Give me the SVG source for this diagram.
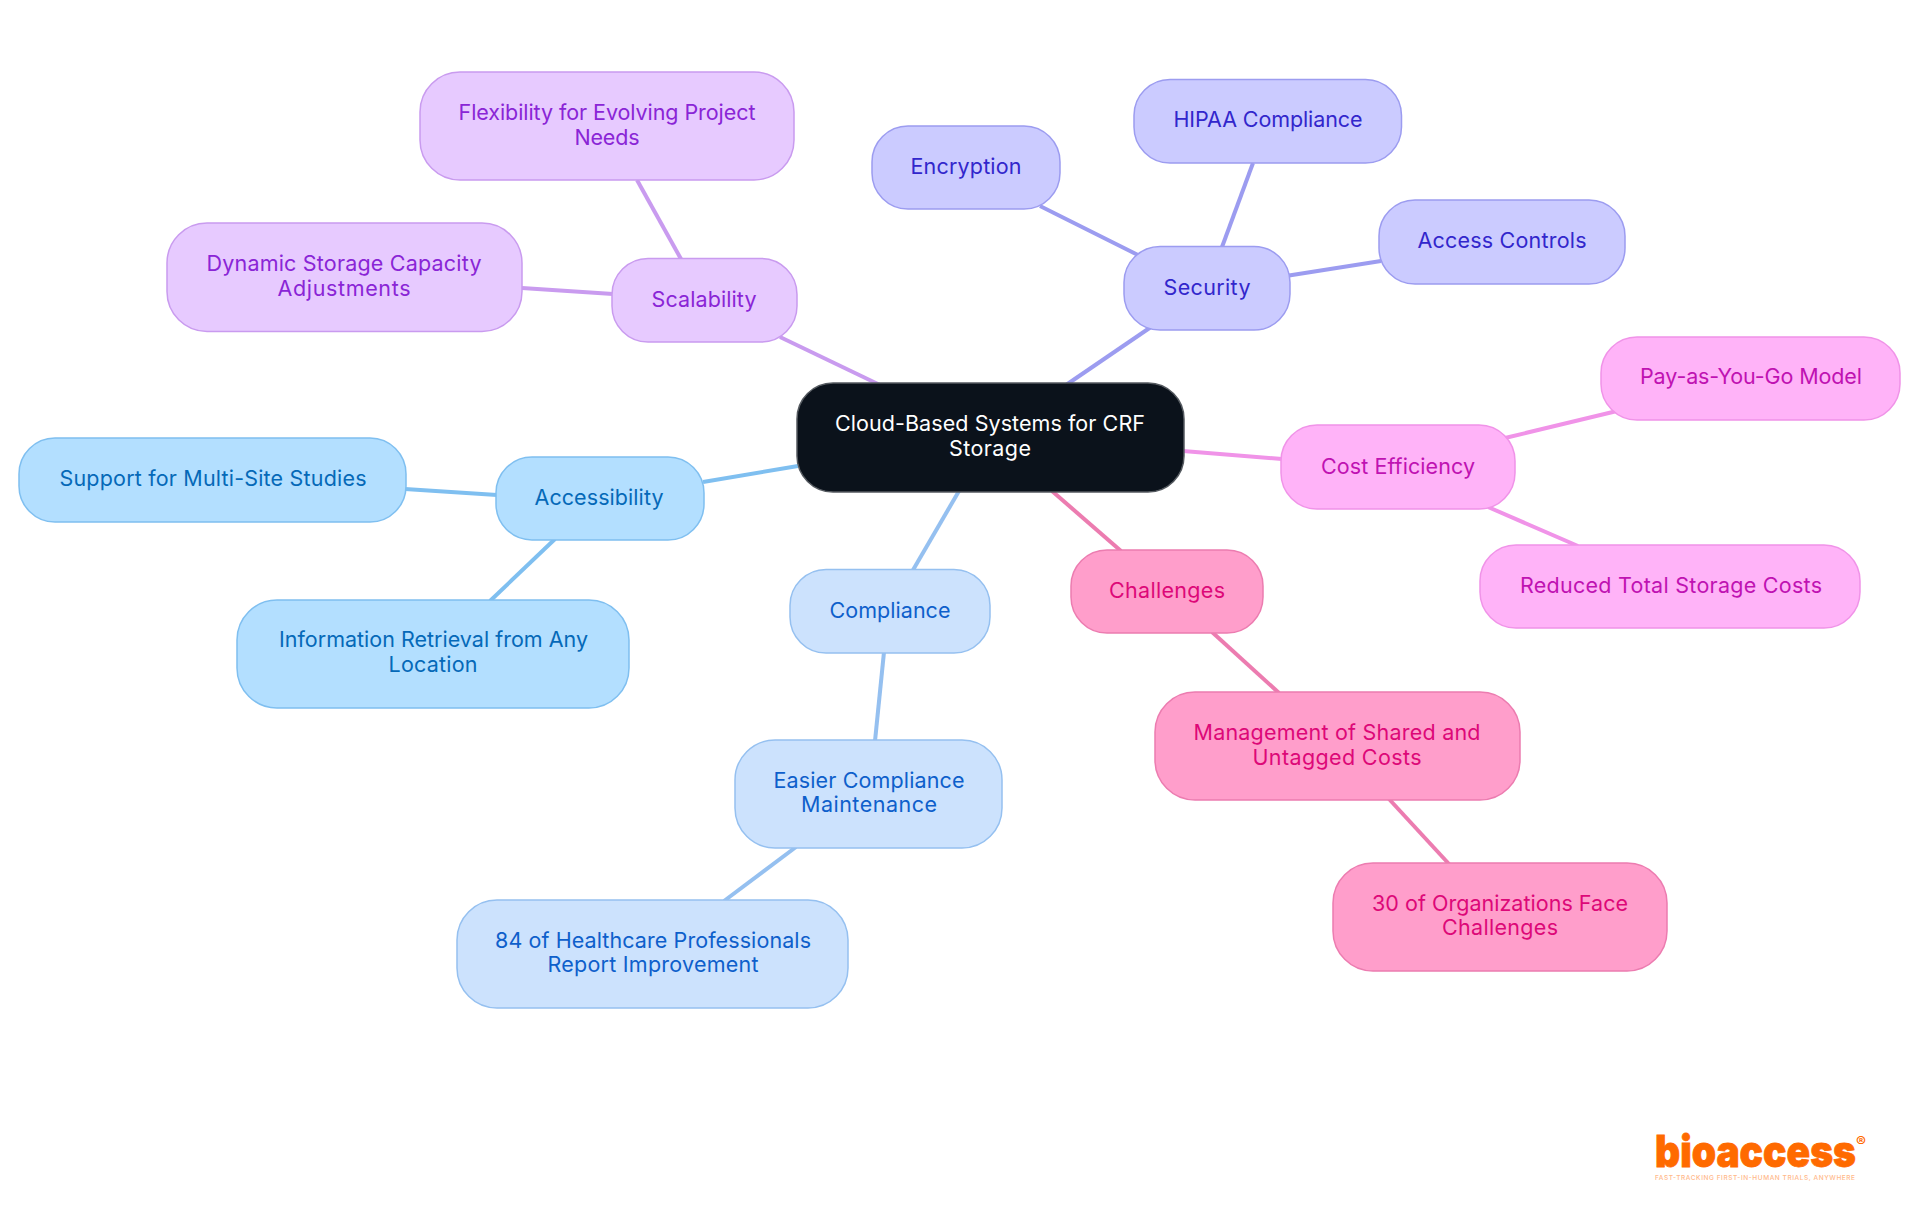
<svg xmlns="http://www.w3.org/2000/svg" width="1920" height="1215" viewBox="0 0 1920 1215">
<style>
text{font-family:"Inter","Noto Sans",sans-serif;font-size:21.5px;font-weight:380;text-anchor:middle}
rect{stroke-width:1.5}
.c line{stroke-width:4;fill:none}
.root rect{fill:#0b121b;stroke:#555a60}.root text{fill:#fff}
.pu rect{fill:#e7caff;stroke:#c99bef}.pu text{fill:#8a25d6}
.in rect{fill:#cbcbff;stroke:#9c9cf0}.in text{fill:#3226cc}
.ma rect{fill:#ffb3f8;stroke:#f093e8}.ma text{fill:#bf12b2}
.sk rect{fill:#b3dfff;stroke:#7fbff0}.sk text{fill:#0569b8}
.bl rect{fill:#cce2fd;stroke:#95c0f0}.bl text{fill:#0e5fcb}
.pk rect{fill:#ff9ecb;stroke:#ec7cb0}.pk text{fill:#dd0878}
</style>
<rect width="1920" height="1215" fill="#fff" stroke="none"/>
<g id="connectors" class="c">
<line x1="780" y1="337" x2="880" y2="385" stroke="#c99bef"/>
<line x1="637" y1="180" x2="681" y2="259" stroke="#c99bef"/>
<line x1="522" y1="288" x2="613" y2="294" stroke="#c99bef"/>
<line x1="1151" y1="327" x2="1066" y2="385" stroke="#9c9cf0"/>
<line x1="1040" y1="206" x2="1140" y2="256" stroke="#9c9cf0"/>
<line x1="1253" y1="163" x2="1222" y2="247" stroke="#9c9cf0"/>
<line x1="1289" y1="275.500" x2="1381" y2="261" stroke="#9c9cf0"/>
<line x1="1183" y1="451" x2="1282" y2="459" stroke="#f093e8"/>
<line x1="1505" y1="438" x2="1617" y2="411" stroke="#f093e8"/>
<line x1="1488" y1="507" x2="1578" y2="546" stroke="#f093e8"/>
<line x1="798" y1="466" x2="703" y2="482" stroke="#7fbff0"/>
<line x1="497" y1="495" x2="405" y2="489" stroke="#7fbff0"/>
<line x1="555" y1="539" x2="490" y2="601" stroke="#7fbff0"/>
<line x1="959" y1="491" x2="913" y2="570" stroke="#95c0f0"/>
<line x1="884" y1="652" x2="875" y2="741" stroke="#95c0f0"/>
<line x1="796" y1="847" x2="724" y2="901" stroke="#95c0f0"/>
<line x1="1052" y1="491" x2="1121" y2="551" stroke="#ec7cb0"/>
<line x1="1212" y1="632" x2="1279" y2="693" stroke="#ec7cb0"/>
<line x1="1389" y1="799" x2="1449" y2="864" stroke="#ec7cb0"/>
</g>
<g id="root" class="root"><rect x="797" y="383" width="387" height="109" rx="36"/><text x="990" y="431" textLength="310">Cloud-Based Systems for CRF</text><text x="990" y="456" textLength="82">Storage</text></g>
<g id="scalability" class="pu"><rect x="612" y="258.500" width="185" height="83.500" rx="36"/><text x="704" y="307" textLength="105">Scalability</text></g>
<g id="flexibility" class="pu"><rect x="420" y="72" width="374" height="108" rx="40"/><text x="607" y="120" textLength="297">Flexibility for Evolving Project</text><text x="607" y="145" textLength="65">Needs</text></g>
<g id="dynamic" class="pu"><rect x="167" y="223" width="355" height="108.500" rx="40"/><text x="344" y="271" textLength="275">Dynamic Storage Capacity</text><text x="344" y="296" textLength="133">Adjustments</text></g>
<g id="security" class="in"><rect x="1124" y="246.500" width="166" height="83.500" rx="36"/><text x="1207" y="295" textLength="87">Security</text></g>
<g id="encryption" class="in"><rect x="872" y="126" width="188" height="83" rx="36"/><text x="966" y="174" textLength="111">Encryption</text></g>
<g id="hipaa" class="in"><rect x="1134" y="79.500" width="267.500" height="83.500" rx="36"/><text x="1268" y="127" textLength="189">HIPAA Compliance</text></g>
<g id="access-controls" class="in"><rect x="1379" y="200" width="246" height="84" rx="36"/><text x="1502" y="248" textLength="169">Access Controls</text></g>
<g id="cost" class="ma"><rect x="1281" y="425" width="234" height="84" rx="36"/><text x="1398" y="474" textLength="154">Cost Efficiency</text></g>
<g id="payg" class="ma"><rect x="1601" y="337" width="299" height="83" rx="36"/><text x="1751" y="384" textLength="222">Pay-as-You-Go Model</text></g>
<g id="reduced" class="ma"><rect x="1480" y="545" width="380" height="83" rx="36"/><text x="1671" y="593" textLength="302">Reduced Total Storage Costs</text></g>
<g id="accessibility" class="sk"><rect x="496" y="457" width="208" height="83" rx="36"/><text x="599" y="505" textLength="129">Accessibility</text></g>
<g id="support" class="sk"><rect x="19" y="438" width="387" height="84" rx="36"/><text x="213" y="486" textLength="307">Support for Multi-Site Studies</text></g>
<g id="information" class="sk"><rect x="237" y="600" width="392" height="108" rx="40"/><text x="433.500" y="647" textLength="309">Information Retrieval from Any</text><text x="433" y="672" textLength="89">Location</text></g>
<g id="compliance" class="bl"><rect x="790" y="569.500" width="200" height="83.500" rx="36"/><text x="890" y="618" textLength="121">Compliance</text></g>
<g id="easier" class="bl"><rect x="735" y="740" width="267" height="108" rx="40"/><text x="869" y="788" textLength="191">Easier Compliance</text><text x="869" y="812" textLength="136">Maintenance</text></g>
<g id="healthcare" class="bl"><rect x="457" y="900" width="391" height="108" rx="40"/><text x="653" y="948" textLength="316">84 of Healthcare Professionals</text><text x="653" y="972" textLength="211">Report Improvement</text></g>
<g id="challenges" class="pk"><rect x="1071" y="550" width="192" height="83" rx="36"/><text x="1167" y="598" textLength="116">Challenges</text></g>
<g id="management" class="pk"><rect x="1155" y="692" width="365" height="108" rx="40"/><text x="1337" y="740" textLength="287">Management of Shared and</text><text x="1337" y="765" textLength="169">Untagged Costs</text></g>
<g id="thirty" class="pk"><rect x="1333" y="863" width="334" height="108" rx="40"/><text x="1500" y="911" textLength="256">30 of Organizations Face</text><text x="1500" y="935" textLength="116">Challenges</text></g>
<g id="logo">
<text x="1655" y="1167" style="font-size:44px;font-weight:900;text-anchor:start;fill:#ff6a00;stroke:#ff6a00;stroke-width:.8" textLength="201" lengthAdjust="spacingAndGlyphs">bioaccess</text>
<text x="1861" y="1147" style="font-size:15px;font-weight:600;fill:#ff6a00">®</text>
<text x="1655" y="1179.500" style="font-size:6.500px;font-weight:500;text-anchor:start;fill:#ffb98a" textLength="200">FAST-TRACKING FIRST-IN-HUMAN TRIALS, ANYWHERE</text>
</g>
</svg>
